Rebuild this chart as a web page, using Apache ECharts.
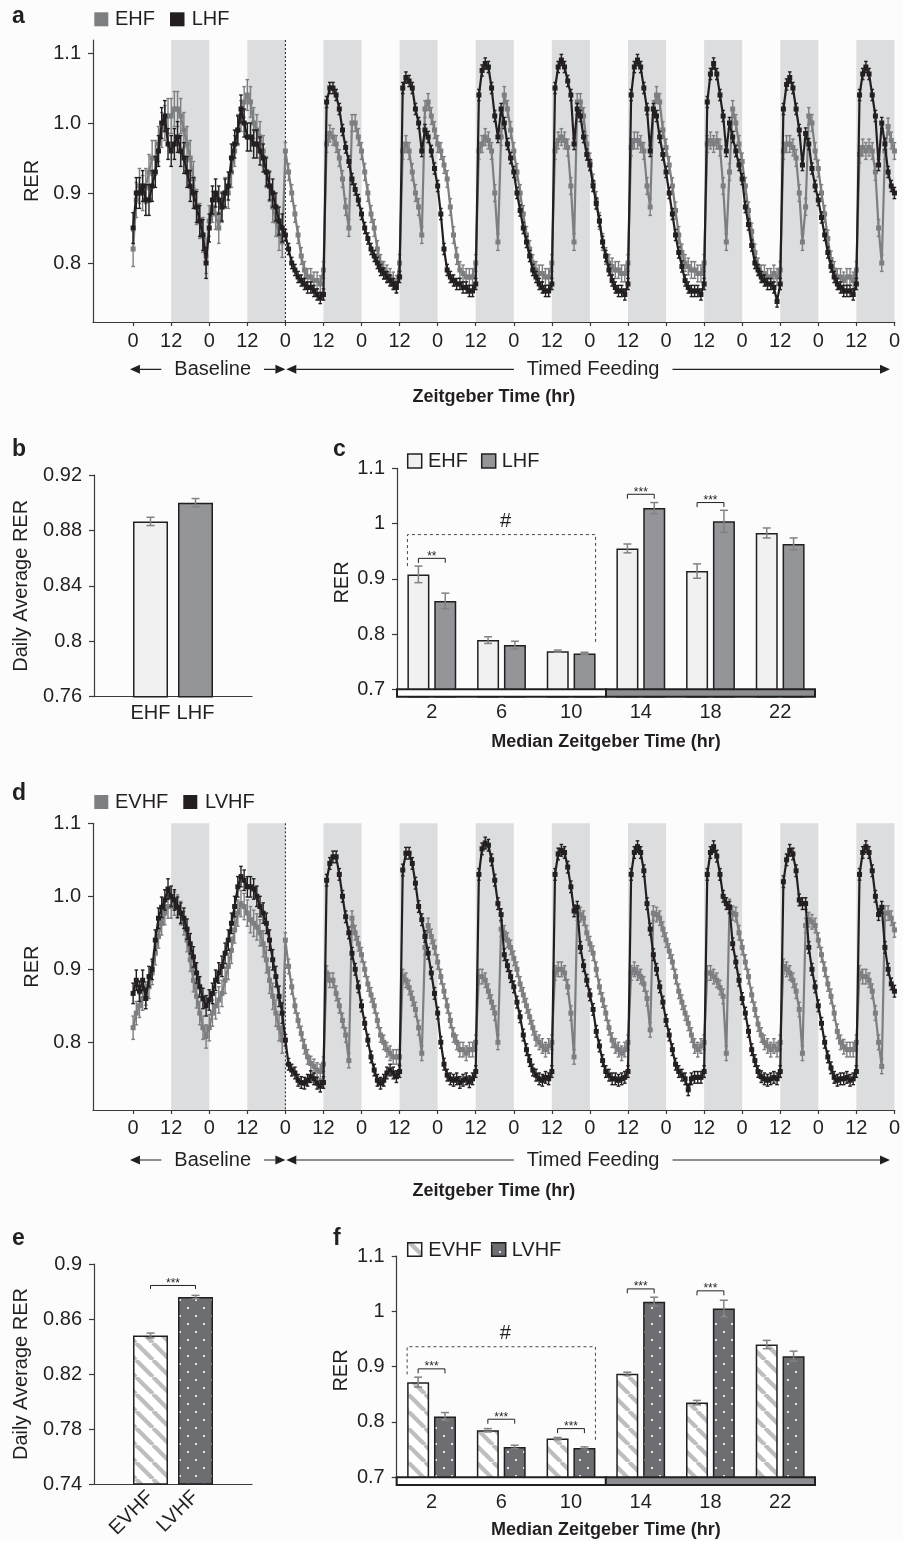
<!DOCTYPE html>
<html><head><meta charset="utf-8">
<script src="https://cdn.jsdelivr.net/npm/echarts@6/dist/echarts.min.js"></script>
<style>html,body{margin:0;padding:0;background:#fcfcfc}#chart{width:903px;height:1541px}</style>
</head><body><div id="chart"></div>
<script>
// ---------------- DATA ----------------
// Hourly RER (index = hours since ZT0 of baseline day 1), one row per day
const ehfRER = [
0.82,0.89,0.91,0.90,0.91,0.93,0.95,0.95,0.97,0.99,1.00,1.01,1.01,1.02,1.02,1.01,0.99,0.97,0.95,0.92,0.88,0.86,0.84,0.81,
0.86,0.88,0.87,0.85,0.88,0.90,0.90,0.93,0.96,0.99,1.01,1.03,1.04,1.03,1.00,0.99,0.98,0.96,0.93,0.91,0.88,0.86,0.84,0.83,
0.96,0.93,0.90,0.87,0.84,0.81,0.79,0.78,0.78,0.775,0.775,0.77,0.79,0.97,0.985,0.98,0.97,0.95,0.92,0.88,0.85,1.00,1.00,0.98,
0.96,0.93,0.90,0.87,0.85,0.82,0.80,0.79,0.785,0.78,0.775,0.77,0.80,0.96,0.97,0.96,0.93,0.90,0.88,0.84,1.02,1.03,1.01,0.99,
0.97,0.96,0.94,0.92,0.88,0.84,0.81,0.79,0.785,0.78,0.78,0.78,0.80,0.96,0.97,0.98,0.975,0.96,0.90,0.83,0.98,1.04,1.02,0.99,
0.96,0.93,0.90,0.87,0.84,0.82,0.80,0.79,0.785,0.785,0.78,0.78,0.80,0.96,0.975,0.98,0.975,0.965,0.91,0.83,1.03,1.03,1.01,0.97,
0.945,0.915,0.89,0.86,0.83,0.81,0.80,0.795,0.79,0.79,0.785,0.785,0.80,0.965,0.975,0.975,0.97,0.96,0.91,0.88,1.02,1.04,1.03,0.99,
0.965,0.94,0.91,0.875,0.84,0.815,0.80,0.795,0.79,0.79,0.785,0.785,0.80,0.97,0.975,0.97,0.975,0.965,0.91,0.83,0.93,1.02,1.00,0.97,
0.945,0.91,0.875,0.845,0.815,0.795,0.785,0.785,0.78,0.78,0.785,0.78,0.79,0.96,0.97,0.97,0.965,0.95,0.90,0.83,0.88,1.01,1.00,0.96,
0.935,0.90,0.87,0.835,0.805,0.79,0.78,0.78,0.775,0.78,0.78,0.775,0.79,0.955,0.965,0.96,0.965,0.96,0.93,0.85,0.80,0.96,0.995,0.975,
0.96];
const lhfRER = [
0.85,0.90,0.90,0.91,0.89,0.89,0.91,0.93,0.96,1.00,1.01,0.97,0.96,0.97,0.98,0.96,0.95,0.93,0.91,0.90,0.88,0.86,0.84,0.80,
0.85,0.89,0.90,0.89,0.88,0.90,0.91,0.95,0.97,0.99,1.02,1.00,0.98,0.98,0.97,0.97,0.96,0.95,0.93,0.91,0.90,0.88,0.86,0.85,
0.84,0.82,0.80,0.79,0.78,0.775,0.77,0.765,0.765,0.76,0.755,0.75,0.755,1.03,1.05,1.05,1.04,1.02,0.99,0.965,0.945,0.92,0.905,0.89,
0.87,0.85,0.835,0.82,0.81,0.80,0.79,0.785,0.78,0.775,0.77,0.765,0.78,1.05,1.065,1.06,1.05,1.02,1.00,0.96,0.99,0.98,0.96,0.935,
0.91,0.87,0.82,0.79,0.78,0.775,0.77,0.77,0.765,0.765,0.76,0.76,0.77,1.04,1.075,1.085,1.08,1.05,1.01,0.98,1.02,1.00,0.97,0.95,
0.93,0.90,0.875,0.85,0.83,0.81,0.79,0.78,0.77,0.765,0.76,0.76,0.77,1.05,1.08,1.09,1.08,1.06,1.04,0.97,1.02,1.01,0.98,0.955,
0.94,0.91,0.885,0.86,0.83,0.81,0.79,0.775,0.765,0.76,0.76,0.755,0.77,1.04,1.08,1.09,1.08,1.05,1.02,0.96,1.02,1.01,0.98,0.955,
0.93,0.90,0.87,0.84,0.815,0.795,0.775,0.765,0.76,0.76,0.76,0.755,0.77,1.03,1.07,1.085,1.07,1.04,1.01,0.96,1.00,0.98,0.96,0.94,
0.92,0.88,0.855,0.825,0.80,0.79,0.78,0.775,0.77,0.77,0.765,0.745,0.77,1.02,1.055,1.065,1.05,1.02,0.99,0.94,0.985,0.97,0.935,0.91,
0.89,0.865,0.84,0.815,0.795,0.78,0.77,0.765,0.76,0.76,0.76,0.755,0.77,1.04,1.07,1.08,1.07,1.04,1.01,0.94,1.00,0.97,0.93,0.91,
0.90];
const evhfRER = [
0.82,0.84,0.85,0.86,0.867,0.876,0.895,0.922,0.945,0.963,0.977,0.986,0.986,0.99,0.986,0.977,0.963,0.94,0.913,0.885,0.863,0.84,0.82,0.808,
0.82,0.84,0.85,0.858,0.867,0.885,0.904,0.926,0.954,0.977,0.99,0.986,0.977,0.968,0.963,0.958,0.95,0.935,0.913,0.885,0.863,0.84,0.82,0.803,
0.94,0.904,0.876,0.85,0.83,0.812,0.794,0.78,0.771,0.767,0.762,0.76,0.77,0.895,0.885,0.885,0.867,0.85,0.83,0.81,0.775,0.97,0.95,0.935,
0.92,0.90,0.88,0.865,0.85,0.83,0.81,0.80,0.79,0.785,0.78,0.78,0.78,0.89,0.885,0.875,0.86,0.845,0.82,0.785,0.93,0.96,0.945,0.93,
0.91,0.89,0.87,0.85,0.83,0.81,0.80,0.79,0.79,0.785,0.79,0.79,0.80,0.89,0.89,0.885,0.87,0.855,0.84,0.80,0.955,0.95,0.94,0.93,
0.915,0.90,0.88,0.865,0.85,0.835,0.82,0.805,0.80,0.795,0.79,0.795,0.80,0.895,0.90,0.90,0.895,0.876,0.84,0.78,0.977,0.975,0.97,0.95,
0.935,0.922,0.90,0.876,0.858,0.84,0.82,0.803,0.795,0.79,0.785,0.79,0.80,0.895,0.90,0.895,0.89,0.88,0.86,0.817,0.977,0.975,0.97,0.955,
0.94,0.925,0.91,0.89,0.87,0.855,0.84,0.826,0.81,0.795,0.79,0.795,0.80,0.895,0.895,0.89,0.885,0.875,0.863,0.785,0.986,0.977,0.975,0.95,
0.93,0.91,0.89,0.865,0.845,0.825,0.81,0.80,0.795,0.79,0.795,0.79,0.80,0.904,0.90,0.895,0.885,0.87,0.845,0.785,0.96,0.968,0.965,0.96,
0.94,0.92,0.90,0.88,0.863,0.84,0.815,0.80,0.794,0.79,0.79,0.79,0.80,0.895,0.89,0.89,0.885,0.87,0.84,0.80,0.767,0.977,0.977,0.97,
0.954];
const lvhfRER = [
0.867,0.885,0.87,0.885,0.86,0.89,0.90,0.94,0.97,0.985,0.995,1.01,1.00,0.995,0.985,0.977,0.97,0.955,0.935,0.917,0.895,0.876,0.86,0.85,
0.858,0.867,0.885,0.895,0.904,0.922,0.94,0.963,0.986,1.013,1.027,1.022,1.013,1.013,1.01,1.00,0.986,0.977,0.963,0.94,0.913,0.89,0.863,0.84,
0.803,0.77,0.762,0.758,0.748,0.745,0.744,0.748,0.753,0.75,0.744,0.74,0.745,1.022,1.045,1.054,1.054,1.03,1.00,0.972,0.95,0.922,0.90,0.876,
0.85,0.826,0.803,0.78,0.762,0.748,0.744,0.748,0.758,0.762,0.758,0.753,0.76,1.036,1.059,1.059,1.045,1.018,0.986,0.968,0.945,0.922,0.895,0.867,
0.84,0.80,0.77,0.755,0.75,0.748,0.75,0.745,0.748,0.75,0.746,0.75,0.76,1.03,1.065,1.073,1.07,1.05,1.022,0.99,0.975,0.92,0.905,0.89,
0.876,0.855,0.835,0.81,0.79,0.775,0.762,0.755,0.75,0.748,0.752,0.75,0.76,1.03,1.058,1.063,1.06,1.04,1.013,0.98,0.985,0.93,0.905,0.885,
0.865,0.845,0.815,0.795,0.775,0.76,0.755,0.75,0.75,0.748,0.75,0.752,0.76,1.03,1.06,1.068,1.06,1.035,0.99,0.955,0.92,0.90,0.876,0.855,
0.83,0.81,0.79,0.77,0.76,0.755,0.75,0.735,0.75,0.752,0.752,0.752,0.76,1.03,1.06,1.068,1.055,1.03,1.00,0.99,0.985,0.935,0.91,0.885,
0.86,0.84,0.815,0.79,0.775,0.76,0.753,0.75,0.748,0.75,0.752,0.75,0.76,1.02,1.05,1.063,1.058,1.035,0.995,0.99,0.99,0.93,0.90,0.876,
0.85,0.826,0.80,0.78,0.765,0.752,0.748,0.75,0.75,0.752,0.748,0.75,0.76,1.03,1.06,1.068,1.06,1.035,1.00,0.975,0.985,0.93,0.90,0.88,
0.87];
// SEM per day (days 1-10)
const ehfSEM  = [0.025,0.022,0.012,0.012,0.012,0.012,0.012,0.012,0.012,0.012];
const lhfSEM  = [0.022,0.020,0.008,0.008,0.008,0.008,0.008,0.008,0.008,0.008];
const evhfSEM = [0.016,0.018,0.010,0.010,0.010,0.010,0.010,0.010,0.010,0.010];
const lvhfSEM = [0.014,0.014,0.008,0.008,0.008,0.008,0.008,0.008,0.008,0.008];

const zeitTicks = [0,12,24,36,48,60,72,84,96,108,120,132,144,156,168,180,192,204,216,228,240];
const darkOnsets = [12,36,60,84,108,132,156,180,204,228];
const feedingStart = 48;
const phaseNames = ['Baseline','Timed Feeding'];
const phaseSpans = [[-1,48],[48.3,238.6]];

// daily averages
const bGroups = ['EHF','LHF'];
const bMeans = [0.8865,0.900];
const bErr = [0.003,0.003];
const eGroups = ['EVHF','LVHF'];
const eMeans = [0.848,0.876];
const eErr = [0.0018,0.0012];

// binned RER by median ZT
const zeitBins = ['2','6','10','14','18','22'];
const cEHF = [0.908,0.789,0.769,0.955,0.914,0.983];
const cEHFerr = [0.015,0.006,0.002,0.008,0.013,0.009];
const cLHF = [0.860,0.780,0.765,1.028,1.004,0.963];
const cLHFerr = [0.014,0.007,0.002,0.010,0.020,0.011];
const fEVHF = [0.872,0.785,0.770,0.887,0.835,0.940];
const fEVHFerr = [0.009,0.003,0.002,0.003,0.004,0.0075];
const fLVHF = [0.810,0.755,0.753,1.0175,1.005,0.919];
const fLVHFerr = [0.007,0.003,0.002,0.008,0.015,0.009];

const yTicksA = [0.8,0.9,1.0,1.1];
const yTicksB = [0.76,0.80,0.84,0.88,0.92];
const yTicksC = [0.7,0.8,0.9,1.0,1.1];
const yTicksE = [0.74,0.78,0.82,0.86,0.90];

// significance annotations [category, bracket height, label]
const cSig = [[0,0.937,'**'],[3,1.053,'***'],[4,1.038,'***']];
const fSig = [[0,0.896,'***'],[1,0.805,'***'],[2,0.788,'***'],[3,1.0405,'***'],[4,1.037,'***']];
const eSig = [[0.8844,'***']];
const cHash = [[0,2,0.980,0.923,0.782,1.003]];
const fHash = [[0,2,0.936,0.886,0.763,0.960]];
const lightDark = [[0,2,0],[3,5,1]];
const bandBase = 0.7;

// ---------------- STYLE ----------------
const FONT = '"Liberation Sans", Arial, Helvetica, sans-serif';
const INK = '#231f20';
const AXIS = '#3a3a3a';
const BG = '#fcfcfc';
const GRAY_TS = '#7d7e81';
const LIGHT_BAR = '#f1f1f2';
const MID_BAR = '#939598';
const ERR = '#808285';
const BW = 22, GAP = 4.84, OFF = (BW + GAP) / 2;

function stripeCanvas() {
  const S = 17, c = document.createElement('canvas'); c.width = S; c.height = S;
  const g = c.getContext('2d'); g.fillStyle = '#ffffff'; g.fillRect(0,0,S,S);
  g.strokeStyle = '#bcbec0'; g.lineWidth = 4.2;
  for (let k = -1; k <= 1; k++) { g.beginPath(); g.moveTo(k*S, 0); g.lineTo(k*S + S, S); g.stroke(); }
  return c;
}
function dotCanvas() {
  const S = 16, c = document.createElement('canvas'); c.width = S; c.height = S;
  const g = c.getContext('2d'); g.fillStyle = '#6d6e71'; g.fillRect(0,0,S,S);
  g.fillStyle = '#e4e4e4'; g.fillRect(3,3,2,2); g.fillRect(11,11,2,2);
  return c;
}
const STRIPE = {image: stripeCanvas(), repeat: 'repeat'};
const DOTS = {image: dotCanvas(), repeat: 'repeat'};

// ---------------- RENDERERS ----------------
function tsData(arr, sem) { return arr.map((v, i) => [i, v, sem[Math.min(Math.floor(i / 24), sem.length - 1)]]); }

function errRender(color, cap, lw) {
  return function (params, api) {
    const x = api.value(0), v = api.value(1), e = api.value(2);
    const dx = api.value(3) ? api.value(3) * OFF : 0;
    const hi = api.coord([x, v + e]), lo = api.coord([x, v - e]);
    const X = hi[0] + dx;
    const st = {stroke: color, lineWidth: lw};
    return {type: 'group', children: [
      {type: 'line', shape: {x1: X, y1: hi[1], x2: X, y2: lo[1]}, style: st},
      {type: 'line', shape: {x1: X - cap, y1: hi[1], x2: X + cap, y2: hi[1]}, style: st},
      {type: 'line', shape: {x1: X - cap, y1: lo[1], x2: X + cap, y2: lo[1]}, style: st}
    ]};
  };
}
function shadeRender(params, api) {
  const cs = params.coordSys;
  const x0 = api.coord([api.value(0), 1])[0], x1 = api.coord([api.value(1), 1])[0];
  return {type: 'rect', shape: {x: x0, y: cs.y, width: x1 - x0, height: cs.height}, style: {fill: '#dcdddf'}};
}
function startLineRender(params, api) {
  const cs = params.coordSys;
  const x = api.coord([api.value(0), 1])[0];
  return {type: 'line', shape: {x1: x, y1: cs.y, x2: x, y2: cs.y + cs.height}, style: {stroke: INK, lineWidth: 1, lineDash: [2, 2]}};
}
function arrowRender(offset) {
  return function (params, api) {
    const cs = params.coordSys;
    const a = api.coord([api.value(0), 1])[0], b = api.coord([api.value(1), 1])[0];
    const y = cs.y + cs.height + offset;
    const L = 10, H = 4.5;
    return {type: 'group', children: [
      {type: 'line', shape: {x1: a + L, y1: y, x2: b - L, y2: y}, style: {stroke: INK, lineWidth: 1.2}},
      {type: 'polygon', shape: {points: [[a, y], [a + L, y - H], [a + L, y + H]]}, style: {fill: INK}},
      {type: 'polygon', shape: {points: [[b, y], [b - L, y - H], [b - L, y + H]]}, style: {fill: INK}},
      {type: 'text', x: (a + b) / 2 + 5, y: y, style: {text: phaseNames[api.value(2)], font: '20px ' + FONT, fill: INK,
        align: 'center', verticalAlign: 'middle', backgroundColor: BG, padding: [0, 13]}}
    ]};
  };
}
function bandRender(params, api) {
  const cs = params.coordSys;
  const w = api.size([1, 0])[0];
  const x0 = api.coord([api.value(0), bandBase])[0] - w / 2;
  const x1 = api.coord([api.value(1), bandBase])[0] + w / 2;
  const yTop = api.coord([0, bandBase])[1];
  const yBot = cs.y + cs.height;
  return {type: 'rect', shape: {x: x0, y: yTop, width: x1 - x0, height: yBot - yTop},
    style: {fill: api.value(2) ? '#8d8e91' : '#ffffff', stroke: INK, lineWidth: 2}};
}
function sigRender(list, halfSpan, leg) {
  return function (params, api) {
    const c = api.coord([api.value(0), api.value(1)]);
    const x1 = c[0] - halfSpan, x2 = c[0] + halfSpan, y = c[1];
    return {type: 'group', children: [
      {type: 'polyline', shape: {points: [[x1, y + leg], [x1, y], [x2, y], [x2, y + leg]]}, style: {stroke: INK, lineWidth: 1, fill: null}},
      {type: 'text', x: c[0], y: y - 2, style: {text: list[params.dataIndex][2], font: '12px ' + FONT, fill: INK, align: 'center', verticalAlign: 'middle'}}
    ]};
  };
}
function eSigRender(params, api) {
  const v = api.value(0);
  const p0 = api.coord([0, v]), p1 = api.coord([1, v]);
  const y = p0[1];
  return {type: 'group', children: [
    {type: 'polyline', shape: {points: [[p0[0], y + 3.5], [p0[0], y], [p1[0], y], [p1[0], y + 3.5]]}, style: {stroke: INK, lineWidth: 1, fill: null}},
    {type: 'text', x: (p0[0] + p1[0]) / 2, y: y - 2, style: {text: eSig[params.dataIndex][1], font: '12px ' + FONT, fill: INK, align: 'center', verticalAlign: 'middle'}}
  ]};
}
function hashRender(params, api) {
  const l = api.value(0), r = api.value(1);
  const top = api.coord([l, api.value(2)])[1];
  const lb = api.coord([l, api.value(3)])[1];
  const rb = api.coord([r, api.value(4)])[1];
  const xl = api.coord([l, 1])[0] - OFF - BW / 2;
  const xr = api.coord([r, 1])[0] + OFF + BW / 2;
  const mid = api.coord([(l + r) / 2, api.value(5)]);
  return {type: 'group', children: [
    {type: 'polyline', shape: {points: [[xl, lb], [xl, top], [xr, top], [xr, rb]]}, style: {stroke: '#444', lineWidth: 1, lineDash: [3, 3], fill: null}},
    {type: 'text', x: mid[0] + 4, y: mid[1], style: {text: '#', font: '20px ' + FONT, fill: INK, align: 'center', verticalAlign: 'middle'}}
  ]};
}

// ---------------- AXES ----------------
const axisLine = {show: true, onZero: false, lineStyle: {color: AXIS, width: 1.2}};
const lbl = {color: INK, fontSize: 20, fontFamily: FONT};
function yAxis(grid, min, max, ticks, fmt, name, gap) {
  return {gridIndex: grid, type: 'value', min: min, max: max,
    axisLine: axisLine, splitLine: {show: false},
    axisTick: {show: true, length: 5, customValues: ticks, lineStyle: {color: AXIS, width: 1.2}},
    axisLabel: Object.assign({customValues: ticks, margin: 12, formatter: fmt}, lbl),
    name: name, nameLocation: 'middle', nameGap: gap, nameTextStyle: {color: INK, fontSize: 20, fontFamily: FONT}};
}
function timeAxis(grid, gap, margin) {
  return {gridIndex: grid, type: 'value', min: -12.65, max: 240.1,
    axisLine: axisLine, splitLine: {show: false},
    axisTick: {show: true, length: 4, customValues: zeitTicks, lineStyle: {color: AXIS, width: 1.2}},
    axisLabel: Object.assign({customValues: zeitTicks, margin: margin, formatter: v => String(Math.round(v) % 24)}, lbl),
    name: 'Zeitgeber Time (hr)', nameLocation: 'middle', nameGap: gap,
    nameTextStyle: {color: INK, fontSize: 18, fontWeight: 'bold', fontFamily: FONT}};
}
function groupAxis(grid, groups, rotate) {
  return {gridIndex: grid, type: 'value', min: -1.2556, max: 2.2556,
    axisLine: axisLine, splitLine: {show: false}, axisTick: {show: false},
    axisLabel: Object.assign({customValues: [0, 1], margin: rotate ? 10 : 7, rotate: rotate || 0,
      formatter: v => groups[Math.round(v)]}, lbl)};
}
function binAxis(grid, margin) {
  return {gridIndex: grid, type: 'category', data: zeitBins, boundaryGap: true,
    axisLine: axisLine, axisTick: {show: false}, splitLine: {show: false},
    axisLabel: Object.assign({margin: margin}, lbl),
    name: 'Median Zeitgeber Time (hr)', nameLocation: 'middle', nameGap: 36,
    nameTextStyle: {color: INK, fontSize: 18, fontWeight: 'bold', fontFamily: FONT}};
}
const f1 = v => v.toFixed(1);
const fs = v => String(+v.toFixed(2));

// ---------------- SERIES ----------------
function tsSeries(axisIdx, grayArr, graySem, blackArr, blackSem, arrowOffset) {
  const base = {xAxisIndex: axisIdx, yAxisIndex: axisIdx, silent: true, animation: false};
  return [
    Object.assign({type: 'custom', name: 'shade' + axisIdx, renderItem: shadeRender, data: darkOnsets.map(s => [s, s + 12]), z: 0}, base),
    Object.assign({type: 'custom', name: 'start' + axisIdx, renderItem: startLineRender, data: [[feedingStart, 1]], z: 1}, base),
    Object.assign({type: 'custom', name: 'grayErr' + axisIdx, renderItem: errRender(GRAY_TS, 1.8, 1.4), data: tsData(grayArr, graySem), z: 2}, base),
    Object.assign({type: 'line', name: 'gray' + axisIdx, data: grayArr.map((v, i) => [i, v]), symbol: 'rect', symbolSize: 5,
      showSymbol: true, showAllSymbol: true, lineStyle: {color: GRAY_TS, width: 2.2}, itemStyle: {color: GRAY_TS}, z: 3}, base),
    Object.assign({type: 'custom', name: 'blackErr' + axisIdx, renderItem: errRender(INK, 1.8, 1.4), data: tsData(blackArr, blackSem), z: 4}, base),
    Object.assign({type: 'line', name: 'black' + axisIdx, data: blackArr.map((v, i) => [i, v]), symbol: 'rect', symbolSize: 5,
      showSymbol: true, showAllSymbol: true, lineStyle: {color: INK, width: 2.2}, itemStyle: {color: INK}, z: 5}, base),
    Object.assign({type: 'custom', name: 'phase' + axisIdx, renderItem: arrowRender(arrowOffset), data: phaseSpans.map((s, i) => [s[0], s[1], i]), z: 6}, base)
  ];
}
function dailySeries(axisIdx, means, errs, fills) {
  const base = {xAxisIndex: axisIdx, yAxisIndex: axisIdx, silent: true, animation: false};
  return [
    Object.assign({type: 'bar', name: 'daily' + axisIdx, barWidth: 35,
      data: means.map((v, i) => ({value: [i, v], itemStyle: {color: fills[i]}})),
      itemStyle: {borderColor: INK, borderWidth: 1.5}, z: 2}, base),
    Object.assign({type: 'custom', name: 'dailyErr' + axisIdx, renderItem: errRender(ERR, 4, 1.5),
      data: means.map((v, i) => [i, v, errs[i], 0]), z: 3}, base)
  ];
}
function binSeries(axisIdx, names, a, aErr, b, bErr, fills, sig, hash) {
  const base = {xAxisIndex: axisIdx, yAxisIndex: axisIdx, silent: true, animation: false};
  return [
    Object.assign({type: 'bar', name: names[0], data: a, barWidth: BW, barGap: '22%',
      itemStyle: {color: fills[0], borderColor: INK, borderWidth: 1.5}, z: 2}, base),
    Object.assign({type: 'bar', name: names[1], data: b, barWidth: BW, barGap: '22%',
      itemStyle: {color: fills[1], borderColor: INK, borderWidth: 1.5}, z: 2}, base),
    Object.assign({type: 'custom', name: 'errA' + axisIdx, renderItem: errRender(ERR, 4, 1.5),
      data: a.map((v, i) => [i, v, aErr[i], -1]), z: 3}, base),
    Object.assign({type: 'custom', name: 'errB' + axisIdx, renderItem: errRender(ERR, 4, 1.5),
      data: b.map((v, i) => [i, v, bErr[i], 1]), z: 3}, base),
    Object.assign({type: 'custom', name: 'band' + axisIdx, renderItem: bandRender, data: lightDark, z: 6}, base),
    Object.assign({type: 'custom', name: 'sig' + axisIdx, renderItem: sigRender(sig, OFF, 4.5), data: sig.map(s => [s[0], s[1]]), z: 4}, base),
    Object.assign({type: 'custom', name: 'hash' + axisIdx, renderItem: hashRender, data: hash, z: 4}, base)
  ];
}

const series = [].concat(
  tsSeries(0, ehfRER, ehfSEM, lhfRER, lhfSEM, 47.3),
  dailySeries(1, bMeans, bErr, [LIGHT_BAR, MID_BAR]),
  binSeries(2, ['EHF', 'LHF'], cEHF, cEHFerr, cLHF, cLHFerr, [LIGHT_BAR, MID_BAR], cSig, cHash),
  tsSeries(3, evhfRER, evhfSEM, lvhfRER, lvhfSEM, 50),
  dailySeries(4, eMeans, eErr, [STRIPE, DOTS]),
  [{type: 'custom', xAxisIndex: 4, yAxisIndex: 4, silent: true, animation: false, renderItem: eSigRender,
    data: eSig.map(s => [s[0], s[0]]), z: 4}],
  binSeries(5, ['EVHF', 'LVHF'], fEVHF, fEVHFerr, fLVHF, fLVHFerr, [STRIPE, DOTS], fSig, fHash)
);

// ---------------- LEGENDS & LABELS (graphic) ----------------
function txt(x, y, s, font) {
  return {type: 'text', x: x, y: y, style: {text: s, font: font, fill: INK, align: 'left', verticalAlign: 'middle'}};
}
function box(x, y, w, h, fill, stroke) {
  return {type: 'rect', shape: {x: x, y: y, width: w, height: h},
    style: {fill: fill, stroke: stroke || null, lineWidth: stroke ? 1.5 : 0}};
}
const LBL = 'bold 23px ' + FONT, LEG = '20px ' + FONT;
const graphic = [
  txt(12, 17, 'a', LBL), txt(12, 450, 'b', LBL), txt(333, 450, 'c', LBL),
  txt(12, 793.7, 'd', LBL), txt(12, 1238.7, 'e', LBL), txt(333, 1238.7, 'f', LBL),
  box(94.3, 12.3, 14, 14, GRAY_TS), txt(115, 19.7, 'EHF', LEG),
  box(170, 12.3, 14.5, 14, INK), txt(191.7, 19.7, 'LHF', LEG),
  box(407.7, 454, 14, 14, LIGHT_BAR, INK), txt(428, 461.5, 'EHF', LEG),
  box(481.7, 454, 14, 14, MID_BAR, INK), txt(501.7, 461.5, 'LHF', LEG),
  box(94.3, 795, 14, 14, GRAY_TS), txt(115, 802, 'EVHF', LEG),
  box(183.3, 795, 14, 14, INK), txt(205, 802, 'LVHF', LEG),
  box(407.7, 1242.7, 14, 13.5, STRIPE, INK), txt(428.3, 1250, 'EVHF', LEG),
  box(491.7, 1242.7, 14, 13.5, DOTS, INK), txt(511.7, 1250, 'LVHF', LEG)
];

const option = {
  backgroundColor: BG,
  animation: false,
  textStyle: {fontFamily: FONT},
  grid: [
    {left: 93, top: 40, width: 805, height: 282},
    {left: 94, top: 475, width: 158, height: 221.7},
    {left: 397, top: 468.3, width: 418, height: 228.4},
    {left: 93, top: 823.3, width: 805, height: 286.7},
    {left: 94, top: 1264, width: 158, height: 222},
    {left: 396.7, top: 1256, width: 418.3, height: 229}
  ],
  xAxis: [
    timeAxis(0, 66, 9),
    groupAxis(1, bGroups, 0),
    binAxis(2, 6),
    timeAxis(3, 72, 8),
    groupAxis(4, eGroups, 45),
    binAxis(5, 7.5)
  ],
  yAxis: [
    yAxis(0, 0.7157, 1.1186, yTicksA, f1, 'RER', 48),
    yAxis(1, 0.76, 0.92, yTicksB, fs, 'Daily Average RER', 63),
    yAxis(2, 0.6866, 1.1, yTicksC, fs, 'RER', 45),
    yAxis(3, 0.7073, 1.1, yTicksA, f1, 'RER', 48),
    yAxis(4, 0.74, 0.90, yTicksE, fs, 'Daily Average RER', 63),
    yAxis(5, 0.6861, 1.1, yTicksC, fs, 'RER', 45)
  ],
  series: series,
  graphic: graphic
};
const chart = echarts.init(document.getElementById('chart'), null, {renderer: 'canvas', width: 903, height: 1541});
chart.setOption(option);
</script>
</body></html>
